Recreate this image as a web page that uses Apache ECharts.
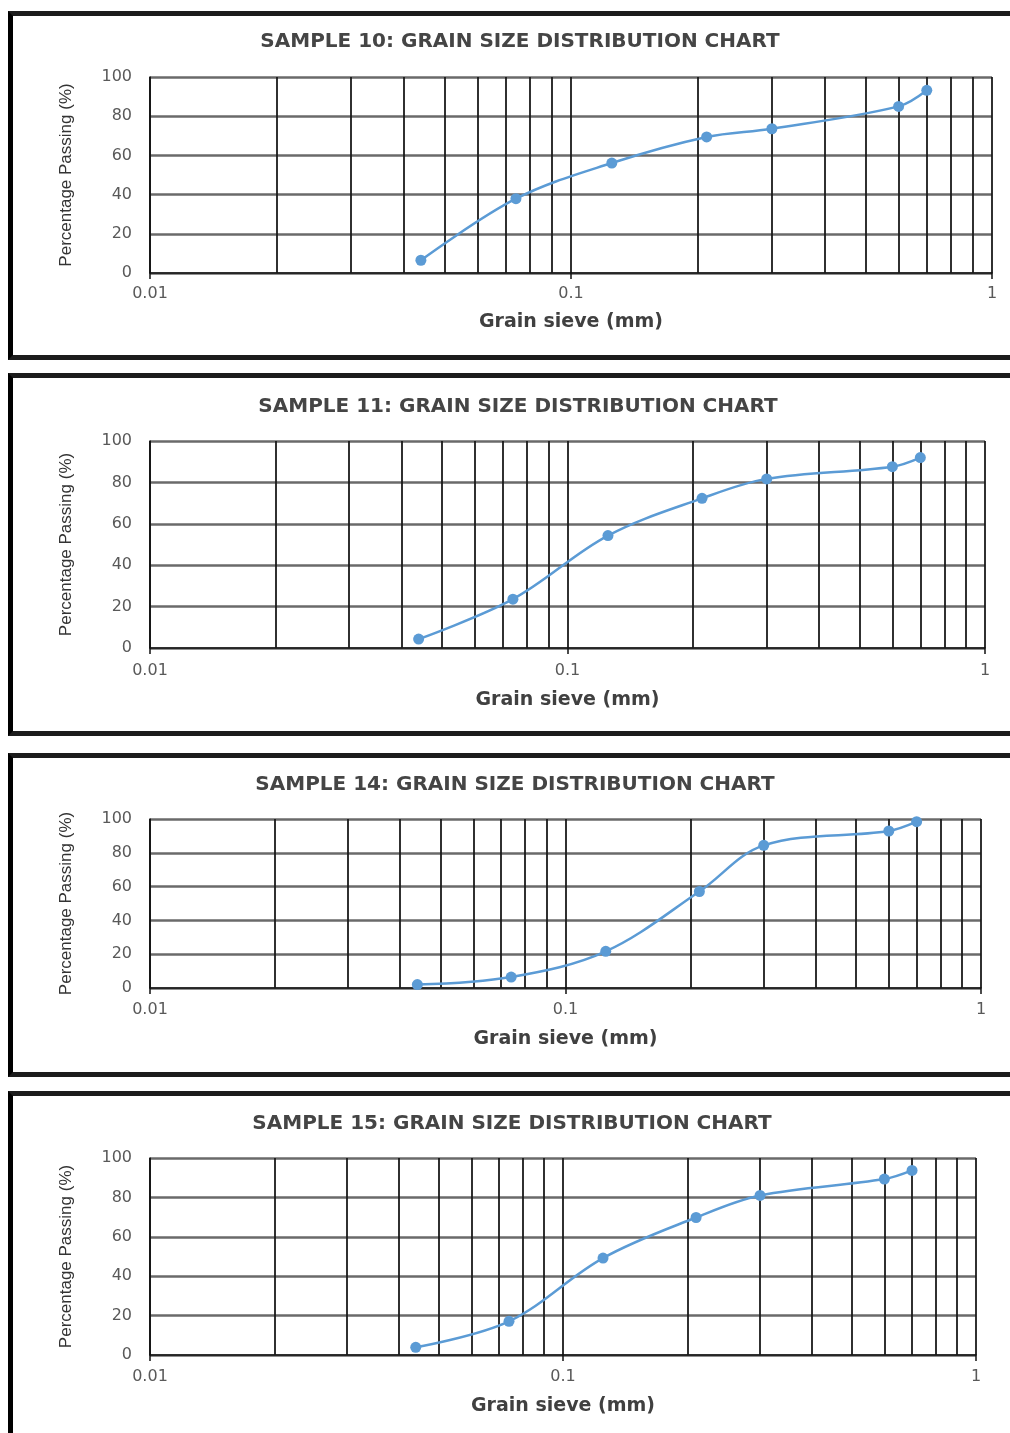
<!DOCTYPE html>
<html>
<head>
<meta charset="utf-8">
<script src="https://cdn.jsdelivr.net/npm/echarts@6/dist/echarts.min.js"></script>
<style>
    body { margin: 0; background: #fff; width: 1010px; height: 1433px; overflow: hidden; position: relative; }
    .panel { position: absolute; left: 8px; width: 1010px; box-sizing: border-box; border: 5px solid #1c1c1c; border-left-color: #000; background: #fff; }
    .chart { position: absolute; left: 0; width: 1010px; }
</style>
</head>
<body>
<div class="panel" style="top:11px;height:349px"></div>
<div class="panel" style="top:373px;height:363px"></div>
<div class="panel" style="top:753px;height:324px"></div>
<div class="panel" style="top:1091px;height:352px"></div>
<div class="chart" id="chart_10" style="top:11px;height:349px"></div>
<div class="chart" id="chart_11" style="top:373px;height:363px"></div>
<div class="chart" id="chart_14" style="top:753px;height:324px"></div>
<div class="chart" id="chart_15" style="top:1091px;height:342px"></div>
<script>
"use strict";

// sieve sizes (mm), same for every sample
var sieve = [0.044, 0.074, 0.125, 0.21, 0.3, 0.6, 0.7];

// percentage passing
var sample10 = [6.5, 37.9, 56.1, 69.4, 73.6, 85, 93.2];
var sample11 = [4.3, 23.6, 54.3, 72.3, 81.7, 87.6, 92.0];
var sample14 = [2.0, 6.5, 21.7, 57.1, 84.4, 92.9, 98.4];
var sample15 = [3.9, 17.1, 49.2, 69.8, 81.0, 89.3, 93.7];

// vertical grid lines between the decades
var minorTicks = [0.02, 0.03, 0.04, 0.05, 0.06, 0.07, 0.08, 0.09,
                  0.2, 0.3, 0.4, 0.5, 0.6, 0.7, 0.8, 0.9];

var xMin = 0.01;
var xMax = 1;
var yTicks = [0, 20, 40, 60, 80, 100];

function makeOption(title, values, lay) {
    return {
        animation: false,
        title: {
            text: title,
            left: lay.titleX,
            top: lay.titleY,
            textAlign: 'center',
            textStyle: {
                fontFamily: 'DejaVu Sans',
                fontSize: 20,
                fontWeight: 'bold',
                color: '#454545'
            }
        },
        grid: {
            left: 150,
            top: lay.top,
            width: lay.width,
            height: lay.height,
            containLabel: false
        },
        xAxis: {
            type: 'log',
            logBase: 10,
            min: xMin,
            max: xMax,
            name: 'Grain sieve (mm)',
            nameLocation: 'middle',
            nameGap: lay.nameGap,
            nameTextStyle: {
                fontFamily: 'DejaVu Sans',
                fontSize: 19,
                fontWeight: 'bold',
                color: '#404040'
            },
            axisLine: { lineStyle: { color: '#111', width: 1.5 } },
            axisTick: { show: true, length: 6, lineStyle: { color: '#111', width: 1.5 } },
            axisLabel: {
                margin: lay.labelMargin,
                fontFamily: 'DejaVu Sans',
                fontSize: 16,
                color: '#595959',
                formatter: function (v) { return String(+v.toFixed(4)); }
            },
            splitLine: { show: true, lineStyle: { color: '#1a1a1a', width: 1.8 } }
        },
        yAxis: {
            type: 'value',
            min: yTicks[0],
            max: yTicks[yTicks.length - 1],
            interval: 20,
            name: 'Percentage Passing (%)',
            nameLocation: 'middle',
            nameGap: 75,
            nameTextStyle: {
                fontFamily: 'Liberation Sans',
                fontSize: 17,
                color: '#333'
            },
            axisLine: { show: true, lineStyle: { color: '#111', width: 1.5 } },
            axisTick: { show: false },
            axisLabel: {
                margin: 18,
                fontFamily: 'DejaVu Sans',
                fontSize: 16,
                color: '#595959'
            },
            splitLine: { show: true, lineStyle: { color: '#6a6a6a', width: 2.5 } }
        },
        series: [
            {
                type: 'line',
                data: [],
                z: 1,
                markLine: {
                    silent: true,
                    symbol: 'none',
                    label: { show: false },
                    lineStyle: { color: '#1a1a1a', width: 1.8, type: 'solid' },
                    data: minorTicks.map(function (v) { return { xAxis: v }; })
                }
            },
            {
                name: title,
                type: 'line',
                z: 5,
                smooth: 0.35,
                symbol: 'circle',
                symbolSize: 11,
                lineStyle: { color: '#5b9bd5', width: 2.5 },
                itemStyle: { color: '#5b9bd5' },
                data: sieve.map(function (s, i) { return [s, values[i]]; })
            }
        ]
    };
}

var charts = [
    { id: 'chart_10', title: 'SAMPLE 10: GRAIN SIZE DISTRIBUTION CHART', values: sample10,
      lay: { titleX: 515, titleY: 16, top: 66, width: 842, height: 196, labelMargin: 13, nameGap: 40 } },
    { id: 'chart_11', title: 'SAMPLE 11: GRAIN SIZE DISTRIBUTION CHART', values: sample11,
      lay: { titleX: 513, titleY: 19, top: 68, width: 835, height: 207, labelMargin: 15, nameGap: 43 } },
    { id: 'chart_14', title: 'SAMPLE 14: GRAIN SIZE DISTRIBUTION CHART', values: sample14,
      lay: { titleX: 510, titleY: 17, top: 66, width: 831, height: 169, labelMargin: 14, nameGap: 42 } },
    { id: 'chart_15', title: 'SAMPLE 15: GRAIN SIZE DISTRIBUTION CHART', values: sample15,
      lay: { titleX: 507, titleY: 18, top: 67, width: 826, height: 197, labelMargin: 14, nameGap: 42 } }
];

charts.forEach(function (c) {
    var myChart = echarts.init(document.getElementById(c.id));
    myChart.setOption(makeOption(c.title, c.values, c.lay));
});
</script>
</body>
</html>
